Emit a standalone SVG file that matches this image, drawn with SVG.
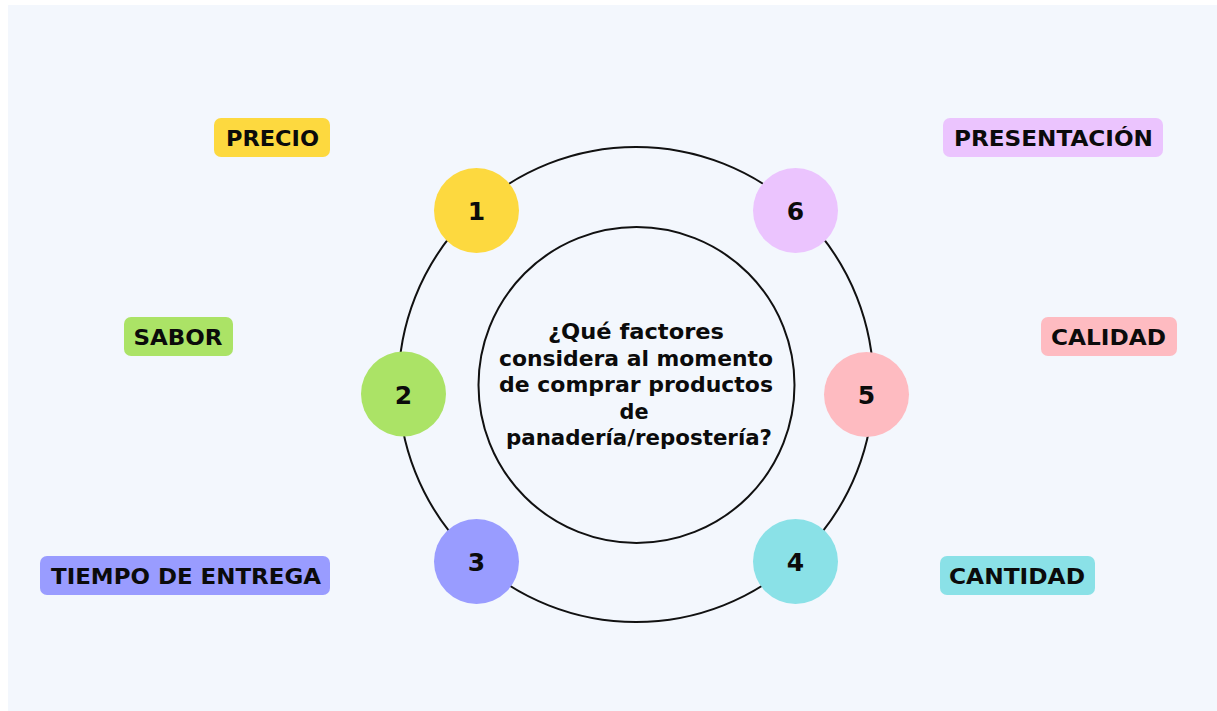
<svg xmlns="http://www.w3.org/2000/svg" width="1217" height="711" viewBox="0 0 1217 711">
<style>
.t{font-family:"DejaVu Sans","Liberation Sans",sans-serif;font-weight:bold;fill:#0b0b0b;text-anchor:middle}
.lbl{font-size:21px}
.num{font-size:25px}
.q{font-size:22px}
.ring{fill:none;stroke:#111;stroke-width:2}
</style>
<rect x="0" y="0" width="1217" height="711" fill="#ffffff"/>
<rect x="8" y="5" width="1209" height="706" fill="#F3F7FD"/>
<g id="connectors">
<circle class="ring" cx="636" cy="384.5" r="237.5"/>
</g>
<g id="center">
<circle class="ring" cx="636.5" cy="385" r="158"/>
<text class="t q" x="636" y="339" textLength="176" lengthAdjust="spacingAndGlyphs">¿Qué factores</text>
<text class="t q" x="636" y="365.5" textLength="274" lengthAdjust="spacingAndGlyphs">considera al momento</text>
<text class="t q" x="636" y="392" textLength="274" lengthAdjust="spacingAndGlyphs">de comprar productos</text>
<text class="t q" x="634" y="418.5" textLength="29" lengthAdjust="spacingAndGlyphs">de</text>
<text class="t q" x="639" y="445" textLength="266" lengthAdjust="spacingAndGlyphs">panadería/repostería?</text>
</g>
<g id="n1">
<circle cx="476.5" cy="210.5" r="42.5" fill="#FDD93F"/>
<text class="t num" x="476.5" y="220">1</text>
</g>
<g id="n2">
<circle cx="403.5" cy="394" r="42.5" fill="#ABE366"/>
<text class="t num" x="403.5" y="403.5">2</text>
</g>
<g id="n3">
<circle cx="476.5" cy="561.5" r="42.5" fill="#999CFF"/>
<text class="t num" x="476.5" y="571">3</text>
</g>
<g id="n4">
<circle cx="795.5" cy="561.5" r="42.5" fill="#8AE1E7"/>
<text class="t num" x="795.5" y="571">4</text>
</g>
<g id="n5">
<circle cx="866.5" cy="394.5" r="42.5" fill="#FEBBC1"/>
<text class="t num" x="866.5" y="404">5</text>
</g>
<g id="n6">
<circle cx="795.5" cy="210.5" r="42.5" fill="#EBC4FE"/>
<text class="t num" x="795.5" y="220">6</text>
</g>
<g id="l-precio">
<rect x="214" y="118" width="116" height="39" rx="7" fill="#FDD93F"/>
<text class="t lbl" x="272.5" y="145.5" textLength="93" lengthAdjust="spacingAndGlyphs">PRECIO</text>
</g>
<g id="l-sabor">
<rect x="124" y="317" width="109" height="39" rx="7" fill="#ABE366"/>
<text class="t lbl" x="178" y="344.5" textLength="89" lengthAdjust="spacingAndGlyphs">SABOR</text>
</g>
<g id="l-tiempo">
<rect x="40" y="556" width="290" height="39" rx="7" fill="#999CFF"/>
<text class="t lbl" x="186" y="583.5" textLength="270" lengthAdjust="spacingAndGlyphs">TIEMPO DE ENTREGA</text>
</g>
<g id="l-presentacion">
<rect x="943" y="118" width="220" height="39" rx="7" fill="#EBC4FE"/>
<text class="t lbl" x="1053.5" y="145.5" textLength="199" lengthAdjust="spacingAndGlyphs">PRESENTACIÓN</text>
</g>
<g id="l-calidad">
<rect x="1041" y="317" width="136" height="39" rx="7" fill="#FEBBC1"/>
<text class="t lbl" x="1108.5" y="344.5" textLength="115" lengthAdjust="spacingAndGlyphs">CALIDAD</text>
</g>
<g id="l-cantidad">
<rect x="940" y="556" width="155" height="39" rx="7" fill="#8AE1E7"/>
<text class="t lbl" x="1017" y="583.5" textLength="136" lengthAdjust="spacingAndGlyphs">CANTIDAD</text>
</g>
</svg>
